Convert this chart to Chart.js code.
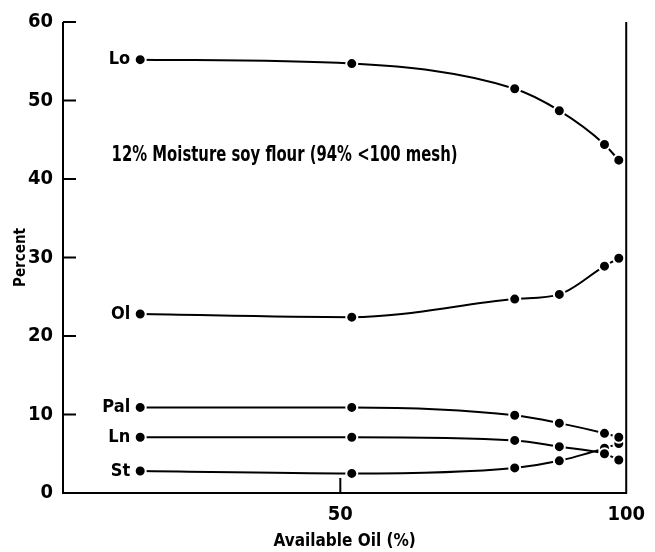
<!DOCTYPE html>
<html>
<head>
<meta charset="utf-8">
<script src="https://cdn.jsdelivr.net/npm/chart.js@4.4.0/dist/chart.umd.min.js"></script>
<style>
  html, body { margin: 0; padding: 0; background: #fff; }
  #wrap { width: 655px; height: 552px; }
</style>
</head>
<body>
<div id="wrap"><canvas id="chart" width="655" height="552"></canvas></div>
<script>
// available oil (%) at each sampling point
const availableOil = [15, 52, 80.5, 88.3, 96.2, 98.7];

// fatty acid composition (percent)
const lo  = [55.2, 54.7, 51.5, 48.7, 44.4, 42.4];
const ol  = [22.8, 22.4, 24.7, 25.3, 28.9, 29.9];
const pal = [10.9, 10.9, 9.9, 8.9, 7.6, 7.1];
const ln  = [7.1, 7.1, 6.7, 5.9, 5.0, 4.2];
const st  = [2.8, 2.5, 3.2, 4.1, 5.7, 6.3];

const seriesNames = ["Lo", "Ol", "Pal", "Ln", "St"];
const seriesValues = [lo, ol, pal, ln, st];

const xTicks = [50, 100];
const yTicks = [0, 10, 20, 30, 40, 50, 60];

const note = "12% Moisture soy flour (94% <100 mesh)";
const noteFrom = { x: 10, y: 43 };
const noteTo = 70.5;

const FONT = "'Liberation Sans Narrow', 'DejaVu Sans Condensed', 'Arial Narrow', sans-serif";

function toPoints(vals) {
  return vals.map((v, i) => ({ x: availableOil[i], y: v }));
}

const datasets = seriesValues.map((vals, i) => ({
  label: seriesNames[i],
  data: toPoints(vals),
  showLine: true,
  borderColor: "#000",
  borderWidth: 2,
  cubicInterpolationMode: "monotone",
  pointRadius: 5.5,
  pointBackgroundColor: "#000",
  pointBorderColor: "#fff",
  pointBorderWidth: 2,
  pointHoverRadius: 5.5
}));

// axes box, inside ticks, series names and the note
const framePlugin = {
  id: "frame",
  afterDatasetsDraw(chart) {
    const ctx = chart.ctx;
    const a = chart.chartArea;
    const xs = chart.scales.x, ys = chart.scales.y;
    ctx.save();
    ctx.strokeStyle = "#000";
    ctx.lineWidth = 2;
    ctx.beginPath();
    ctx.moveTo(a.left, a.top);
    ctx.lineTo(a.left, a.bottom);
    ctx.lineTo(a.right, a.bottom);
    ctx.lineTo(a.right, a.top);
    ctx.stroke();

    ctx.beginPath();
    yTicks.forEach(v => {
      if (v === 0) return;
      const y = ys.getPixelForValue(v);
      ctx.moveTo(a.left, y);
      ctx.lineTo(a.left + 13, y);
    });
    const x50 = xs.getPixelForValue(50);
    ctx.moveTo(x50, a.bottom);
    ctx.lineTo(x50, a.bottom - 15);
    ctx.stroke();

    ctx.fillStyle = "#000";
    ctx.font = "bold 18px " + FONT;
    ctx.textAlign = "right";
    ctx.textBaseline = "middle";
    seriesValues.forEach((vals, i) => {
      const px = xs.getPixelForValue(availableOil[0]);
      const py = ys.getPixelForValue(vals[0]);
      ctx.fillText(seriesNames[i], px - 10, py);
    });

    // note, squeezed to the narrow width of the original lettering
    ctx.font = "bold 21px " + FONT;
    ctx.textAlign = "left";
    const nx = xs.getPixelForValue(noteFrom.x);
    const ny = ys.getPixelForValue(noteFrom.y);
    const want = xs.getPixelForValue(noteTo) - nx;
    const have = ctx.measureText(note).width;
    ctx.translate(nx, ny);
    ctx.scale(want / have, 1);
    ctx.fillText(note, 0, 0);
    ctx.restore();
  }
};

new Chart(document.getElementById("chart"), {
  type: "scatter",
  data: { datasets: datasets },
  options: {
    responsive: false,
    animation: false,
    layout: { padding: { left: 0, right: 16, top: 19, bottom: 0 } },
    plugins: {
      legend: { display: false },
      tooltip: { enabled: false }
    },
    scales: {
      x: {
        type: "linear",
        min: 1.5,
        max: 100,
        afterBuildTicks: s => { s.ticks = xTicks.map(v => ({ value: v })); },
        afterFit: s => { s.height = 59; },
        border: { display: false },
        grid: { display: false, drawTicks: false },
        ticks: {
          color: "#000",
          padding: 10,
          maxRotation: 0,
          font: { family: FONT, size: 20, weight: "bold" }
        },
        title: {
          display: true,
          text: "Available Oil (%)",
          color: "#000",
          padding: { top: 4, bottom: 0 },
          font: { family: FONT, size: 17, weight: "bold" }
        }
      },
      y: {
        type: "linear",
        min: 0,
        max: 60,
        afterBuildTicks: s => { s.ticks = yTicks.map(v => ({ value: v })); },
        afterFit: s => { s.width = 63; },
        border: { display: false },
        grid: { display: false, drawTicks: false },
        ticks: {
          color: "#000",
          padding: 10,
          font: { family: FONT, size: 20, weight: "bold" }
        },
        title: {
          display: true,
          text: "Percent",
          color: "#000",
          padding: { top: 12, bottom: 0 },
          font: { family: FONT, size: 15, weight: "bold" }
        }
      }
    }
  },
  plugins: [framePlugin]
});
</script>
</body>
</html>
